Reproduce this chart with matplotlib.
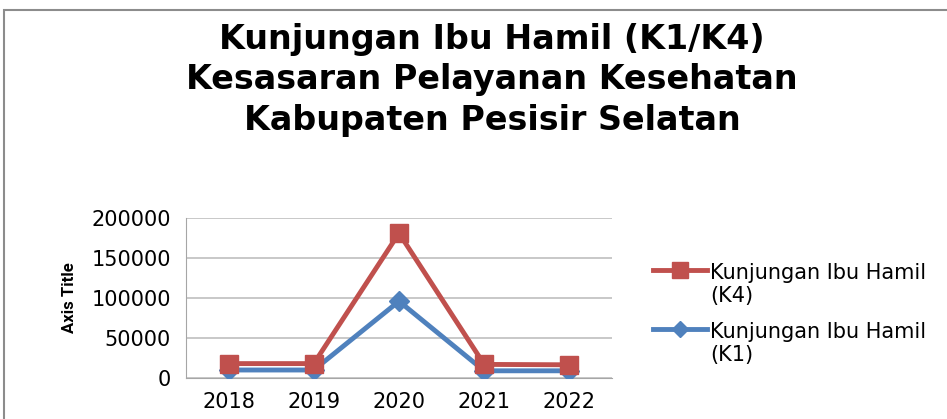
import matplotlib
matplotlib.use("Agg")
import matplotlib.pyplot as plt
from matplotlib.patches import Rectangle
from matplotlib.lines import Line2D
from matplotlib.legend_handler import HandlerLine2D

years = ["2018", "2019", "2020", "2021", "2022"]
k4 = [18000, 18000, 181000, 17000, 16500]
k1 = [10000, 10000, 96000, 9000, 9000]
yticks = [0, 50000, 100000, 150000, 200000]
title = "Kunjungan Ibu Hamil (K1/K4)\nKesasaran Pelayanan Kesehatan\nKabupaten Pesisir Selatan"
label_k4 = "Kunjungan Ibu Hamil\n(K4)"
label_k1 = "Kunjungan Ibu Hamil\n(K1)"


class TopHandler(HandlerLine2D):
    """Align legend handle with the first line of a two-line label."""
    def create_artists(self, legend, orig_handle, xdescent, ydescent, width, height, fontsize, trans):
        artists = super().create_artists(legend, orig_handle, xdescent, ydescent, width, height,
                                         fontsize, trans)
        for a in artists:
            a.set_ydata([y + fontsize * 0.72 for y in a.get_ydata()])
        return artists


W, H = 947, 419
fig = plt.figure(figsize=(W / 100, H / 100), dpi=100)
fig.patch.set_facecolor("white")

# outer chart border
fig.patches.append(Rectangle((4 / W, -0.1), 1.2, 1 - 10 / H + 0.1, transform=fig.transFigure,
                             fill=False, edgecolor="#8c8c8c", linewidth=1.5))

ax = fig.add_axes([186 / W, 1 - 378 / H, (612 - 186) / W, (378 - 218) / H])
x = list(range(len(years)))
red = "#c0504d"
blue = "#4f81bd"
ax.plot(x, k1, color=blue, linewidth=3.5, marker="D", markersize=10, zorder=3)
ax.plot(x, k4, color=red, linewidth=3.5, marker="s", markersize=13, zorder=4)

ax.set_xlim(-0.5, len(years) - 0.5)
ax.set_ylim(0, 200000)
ax.set_yticks(yticks)
ax.set_yticklabels([str(v) for v in yticks], fontsize=15, family="DejaVu Sans")
ax.set_xticks(x)
ax.set_xticklabels(years, fontsize=15, family="DejaVu Sans")
ax.tick_params(axis="both", length=0)
ax.tick_params(axis="x", pad=10)
ax.tick_params(axis="y", pad=11)
ax.yaxis.grid(True, color="#bfbfbf", linewidth=1.2)
ax.set_axisbelow(True)
for s in ["top", "right"]:
    ax.spines[s].set_visible(False)
ax.spines["left"].set_color("#a6a6a6")
ax.spines["bottom"].set_color("#a6a6a6")
ax.set_ylabel("Axis Title", fontsize=12, fontweight="bold", family="Roboto", labelpad=10)

fig.text(492 / W, 1 - 80 / H, title, ha="center", va="center", fontsize=24, fontweight="bold",
         family="DejaVu Sans", linespacing=1.28)

h4 = Line2D([], [], color=red, linewidth=3.5, marker="s", markersize=11)
h1 = Line2D([], [], color=blue, linewidth=3.5, marker="D", markersize=8)
fig.legend([h4, h1], [label_k4, label_k1], loc="upper left", bbox_to_anchor=(634 / W, 1 - 244 / H),
           frameon=False, handlelength=2.6, handletextpad=0.15, labelspacing=0.75,
           handler_map={h4: TopHandler(), h1: TopHandler()},
           prop={"family": "DejaVu Sans", "size": 15})

fig.savefig("out.png", dpi=100)
